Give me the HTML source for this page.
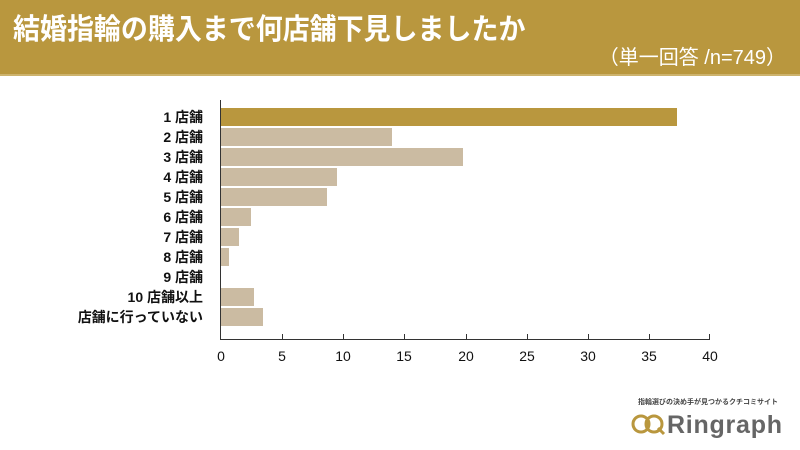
<!DOCTYPE html>
<html><head><meta charset="utf-8"><style>
body{margin:0;width:800px;height:450px;background:#fff;overflow:hidden;font-family:"Liberation Sans","Noto Sans CJK JP",sans-serif}
.hd{position:absolute;left:0;top:0;width:800px;height:74px;background:#B9973E;border-bottom:2px solid #cdb36d}
.t{position:absolute;left:13px;top:6px;color:#fff;font-size:29px;font-weight:bold;transform:scaleX(0.93);transform-origin:left}
.s{position:absolute;right:14px;top:41px;color:#fff;font-size:20px}
</style></head><body>
<div class="hd"><div class="t">結婚指輪の購入まで何店舗下見しましたか</div><div class="s">（単一回答 /n=749）</div></div>
<svg width="800" height="450" style="position:absolute;left:0;top:0" font-family="Liberation Sans, Noto Sans CJK JP, sans-serif">
<g fill="#cbbba2">
<rect x="221" y="108" width="456" height="18" fill="#B9973E"/>
<rect x="221" y="128" width="171" height="18"/>
<rect x="221" y="148" width="242" height="18"/>
<rect x="221" y="168" width="116" height="18"/>
<rect x="221" y="188" width="106" height="18"/>
<rect x="221" y="208" width="30" height="18"/>
<rect x="221" y="228" width="18" height="18"/>
<rect x="221" y="248" width="8" height="18"/>
<rect x="221" y="288" width="33" height="18"/>
<rect x="221" y="308" width="42" height="18"/>
</g>
<g stroke="#333" stroke-width="1">
<line x1="220.5" y1="100" x2="220.5" y2="339"/>
<line x1="220" y1="339.5" x2="710" y2="339.5"/>
<line x1="282.5" y1="334" x2="282.5" y2="339"/><line x1="343.5" y1="334" x2="343.5" y2="339"/>
<line x1="404.5" y1="334" x2="404.5" y2="339"/><line x1="466.5" y1="334" x2="466.5" y2="339"/>
<line x1="527.5" y1="334" x2="527.5" y2="339"/><line x1="588.5" y1="334" x2="588.5" y2="339"/>
<line x1="649.5" y1="334" x2="649.5" y2="339"/><line x1="709.5" y1="334" x2="709.5" y2="339"/>
</g>
<g font-size="14" fill="#111" text-anchor="end" font-weight="bold">
<text x="203" y="122">1 店舗</text><text x="203" y="142">2 店舗</text><text x="203" y="162">3 店舗</text>
<text x="203" y="182">4 店舗</text><text x="203" y="202">5 店舗</text><text x="203" y="222">6 店舗</text>
<text x="203" y="242">7 店舗</text><text x="203" y="262">8 店舗</text><text x="203" y="282">9 店舗</text>
<text x="203" y="302">10 店舗以上</text><text x="203" y="322">店舗に行っていない</text>
</g>
<g font-size="14" fill="#111" text-anchor="middle">
<text x="221" y="361">0</text><text x="282" y="361">5</text><text x="343" y="361">10</text><text x="404" y="361">15</text>
<text x="466" y="361">20</text><text x="527" y="361">25</text><text x="588" y="361">30</text><text x="649" y="361">35</text><text x="710" y="361">40</text>
</g>
<text x="708" y="404" font-size="7" fill="#444" text-anchor="middle" font-weight="bold">指輪選びの決め手が見つかるクチコミサイト</text>
<circle cx="641" cy="424" r="8" fill="none" stroke="#B9973E" stroke-width="3"/>
<circle cx="654" cy="424" r="8" fill="none" stroke="#B9973E" stroke-width="3"/>
<line x1="658" y1="428" x2="664" y2="434" stroke="#B9973E" stroke-width="3"/>
<text x="667" y="433" font-size="25" fill="#666" font-weight="bold" textLength="115">Ringraph</text>
</svg>
</body></html>
